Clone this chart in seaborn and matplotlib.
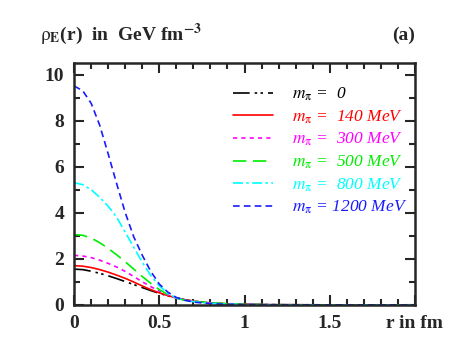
import matplotlib as mpl
mpl.use("Agg")
import matplotlib.pyplot as plt
import seaborn as sns
import numpy as np
import pandas as pd

r = [0.0, 0.05, 0.1, 0.15, 0.2, 0.25, 0.3, 0.35, 0.4, 0.45, 0.5, 0.55, 0.6,
     0.65, 0.7, 0.8, 0.9, 1.0, 1.2, 1.5, 2.0]
rho_0 = [1.55, 1.53, 1.46, 1.37, 1.26, 1.14, 1.01, 0.88, 0.75, 0.62, 0.5, 0.39, 0.3,
         0.22, 0.16, 0.08, 0.04, 0.02, 0.005, 0.0, 0.0]
rho_140 = [1.7, 1.68, 1.62, 1.53, 1.42, 1.29, 1.15, 0.99, 0.82, 0.66, 0.52, 0.4, 0.3,
           0.22, 0.16, 0.08, 0.04, 0.02, 0.005, 0.0, 0.0]
rho_300 = [2.15, 2.12, 2.05, 1.94, 1.8, 1.64, 1.45, 1.23, 1.0, 0.79, 0.6, 0.43, 0.3,
           0.21, 0.15, 0.08, 0.04, 0.02, 0.005, 0.0, 0.0]
rho_500 = [3.05, 3.02, 2.9, 2.7, 2.45, 2.17, 1.87, 1.55, 1.23, 0.93, 0.66, 0.45, 0.3,
           0.2, 0.15, 0.09, 0.05, 0.02, 0.005, 0.0, 0.0]
rho_800 = [5.3, 5.22, 5.0, 4.67, 4.28, 3.8, 3.15, 2.5, 1.85, 1.27, 0.82, 0.5, 0.3,
           0.2, 0.14, 0.07, 0.03, 0.01, 0.003, 0.0, 0.0]
rho_1200 = [9.5, 9.3, 8.75, 7.8, 6.55, 5.25, 4.0, 2.95, 2.15, 1.45, 0.9, 0.55, 0.32,
            0.2, 0.12, 0.05, 0.02, 0.01, 0.002, 0.0, 0.0]

labels = [r"$m_\mathrm{\pi}$ =  0", r"$m_\mathrm{\pi}$ =  140 MeV", r"$m_\mathrm{\pi}$ =  300 MeV",
          r"$m_\mathrm{\pi}$ =  500 MeV", r"$m_\mathrm{\pi}$ =  800 MeV", r"$m_\mathrm{\pi}$ = 1200 MeV"]
series = [rho_0, rho_140, rho_300, rho_500, rho_800, rho_1200]
colors = ["black", "#ff0000", "#ff00ff", "#00ee00", "#00ffff", "#1a1aff"]
dashes = [(10, 3, 1.5, 2, 1.5, 3), (), (2.5, 2.5), (8, 4), (6, 2, 1.5, 2), (4, 2.5)]

sns.set_style("ticks")
plt.rcParams["font.family"] = ["Liberation Serif", "DejaVu Serif"]
plt.rcParams["mathtext.fontset"] = "stix"

fig = plt.figure(figsize=(4.52, 3.48), dpi=100)
ax = fig.add_axes([0.164, 0.124, 0.754, 0.695])

for lab, vals, col, ds in zip(labels, series, colors, dashes):
    df = pd.DataFrame({"r": r, "rho": vals})
    sns.lineplot(data=df, x="r", y="rho", ax=ax, color=col, lw=1.2, label=lab)
    if ds:
        ax.lines[-1].set_dashes(ds)

ax.set_xlim(0, 2)
ax.set_ylim(0, 10.5)
ax.set_xlabel("")
ax.set_ylabel("")
ax.set_xticks([0, 0.5, 1, 1.5, 2])
ax.set_xticklabels(["0", "0.5", "1", "1.5", "r in fm"])
ax.set_xticks(np.arange(0, 2.01, 0.1), minor=True)
ax.set_yticks([0, 2, 4, 6, 8, 10])
ax.set_yticks(np.arange(0, 10.4, 1), minor=True)
ax.tick_params(which="both", direction="in", top=True, right=True, width=1.5)
ax.tick_params(which="major", length=7, labelsize=14, pad=7)
ax.tick_params(which="minor", length=4)
for t in ax.get_xticklabels() + ax.get_yticklabels():
    t.set_fontweight("bold")
for s in ax.spines.values():
    s.set_linewidth(1.8)

leg = ax.legend(loc="upper right", frameon=False, fontsize=12.5, handlelength=2.3,
                handletextpad=1.1, labelspacing=0.3, labelcolor="linecolor",
                bbox_to_anchor=(1.025, 0.97))
for t in leg.get_texts():
    t.set_fontstyle("italic")

fig.text(0.088, 0.885, r"$\mathrm{\rho}_\mathbf{E}$(r)  in  GeV fm$^{\mathbf{-3}}$",
         fontsize=14, fontweight="bold")
fig.text(0.918, 0.885, "(a)", fontsize=14, fontweight="bold", ha="right")

fig.savefig("out.png", dpi=100)
